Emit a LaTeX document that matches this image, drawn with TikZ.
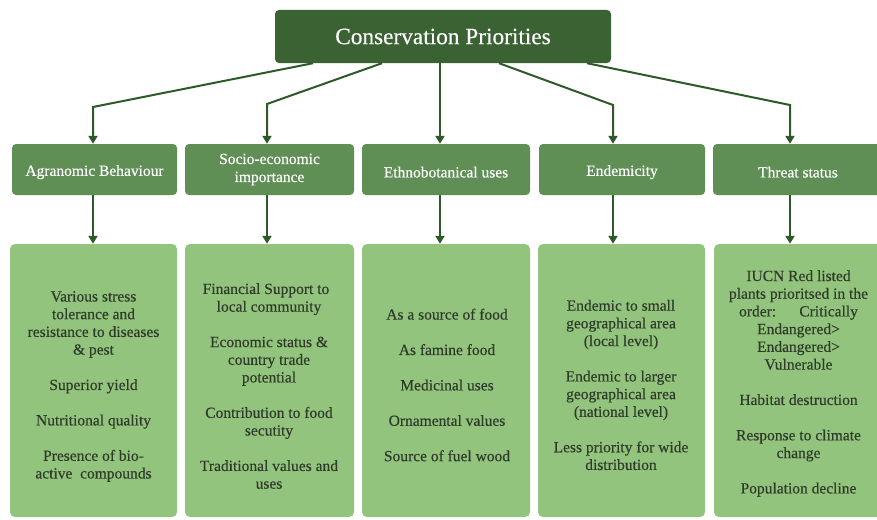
\documentclass[tikz,border=0pt]{standalone}
\usepackage{fontspec}
\setmainfont{Liberation Serif}[FakeBold=0.3]
\usetikzlibrary{arrows.meta}
\definecolor{topgreen}{HTML}{3A6233}
\definecolor{midgreen}{HTML}{5F8F55}
\definecolor{lightgreen}{HTML}{93C47D}
\definecolor{linegreen}{HTML}{2E5A2A}
\definecolor{bodytext}{HTML}{2E3A2A}
\begin{document}
\begin{tikzpicture}[x=1pt,y=-1pt,
  titlebox/.style={fill=topgreen, rounded corners=4pt, minimum width=336pt, minimum height=53pt,
    text=white, font=\fontsize{23.3}{27}\selectfont, inner sep=0pt},
  headbox/.style={fill=midgreen, rounded corners=4pt, minimum height=51pt, text=white,
    font=\fontsize{15.5}{18}\selectfont, align=center, inner sep=0pt,
    execute at begin node={\rule{0pt}{16pt}}},
  itembox/.style={fill=lightgreen, rounded corners=5pt, minimum height=273pt, inner sep=0pt},
  itemtext/.style={text=bodytext, font=\fontsize{15.5}{17.7}\selectfont, align=center, inner sep=0pt},
  link/.style={draw=linegreen, line width=2pt},
  arr/.style={link, -{Triangle[width=9pt,length=8pt]}}
]
\useasboundingbox (0,0) rectangle (877,519);
\begin{scope}
\clip (0,0) rectangle (877,519);

% root
\node[titlebox] (root) at (443,36.5) {Conservation Priorities};

% category boxes
\node[headbox, minimum width=165pt] (m1) at (94.5,169.5) {Agranomic Behaviour};
\node[headbox, minimum width=169pt] (m2) at (269.5,169.5) {Socio-economic\\importance};
\node[headbox, minimum width=168pt] (m3) at (446,169.5) {Ethnobotanical uses};
\node[headbox, minimum width=166pt] (m4) at (622,169.5) {Endemicity};
\node[headbox, minimum width=170pt] (m5) at (798,169.5) {Threat status};

% detail boxes
\node[itembox, minimum width=167pt] (b1) at (93.5,380.5) {};
\node[itembox, minimum width=169pt] (b2) at (269.5,380.5) {};
\node[itembox, minimum width=168pt] (b3) at (446,380.5) {};
\node[itembox, minimum width=167pt] (b4) at (621.5,380.5) {};
\node[itembox, minimum width=169pt] (b5) at (798.5,380.5) {};

\node[itemtext] (t1) at (93.5,386.5) {Various stress\\tolerance and\\resistance to diseases\\\& pest\\[17.7pt]
  Superior yield\\[17.7pt]Nutritional quality\\[17.7pt]Presence of bio-\\active\ \ compounds};
\node[itemtext] (t2) at (269,386) {Financial Support to\hspace*{6pt}\\local community\\[17.7pt]
  Economic status \&\hspace*{18pt}\\country trade\\potential\\[17.7pt]
  Contribution to food\hspace*{8pt}\\secutity\\[17.7pt]Traditional values and\\uses};
\node[itemtext] (t3) at (447,385) {As a source of food\\[17.7pt]As famine food\\[17.7pt]Medicinal uses\\[17.7pt]
  Ornamental values\\[17.7pt]Source of fuel wood};
\node[itemtext] (t4) at (621,385) {Endemic to small\\geographical area\\(local level)\\[17.7pt]
  Endemic to larger\\geographical area\\(national level)\\[17.7pt]Less priority for wide\\distribution};
\node[itemtext] (t5) at (798.5,383.5) {IUCN Red listed\\plants prioritsed in the\\order:\hspace{1.5em}Critically\\
  Endangered>\\Endangered>\\Vulnerable\\[17.7pt]Habitat destruction\\[17.7pt]
  Response to climate\\change\\[17.7pt]Population decline};

% branch points
\coordinate (s1) at (313,0);
\coordinate (s2) at (382,0);
\coordinate (s3) at (440,0);
\coordinate (s4) at (499,0);
\coordinate (s5) at (587,0);
\coordinate (k1) at (93,107);
\coordinate (k2) at (267,104);
\coordinate (k4) at (613,105);
\coordinate (k5) at (790,105);

% root to categories
\draw[arr] (root.south -| s1) -- (k1) -- (k1 |- m1.north);
\draw[arr] (root.south -| s2) -- (k2) -- (k2 |- m2.north);
\draw[arr] (root.south -| s3) -- (s3 |- m3.north);
\draw[arr] (root.south -| s4) -- (k4) -- (k4 |- m4.north);
\draw[arr] (root.south -| s5) -- (k5) -- (k5 |- m5.north);

% categories to details
\draw[arr] (m1.south -| k1) -- (b1.north -| k1);
\draw[arr] (m2.south -| k2) -- (b2.north -| k2);
\draw[arr] (m3.south -| s3) -- (b3.north -| s3);
\draw[arr] (m4.south -| k4) -- (b4.north -| k4);
\draw[arr] (m5.south -| k5) -- (b5.north -| k5);
\end{scope}
\end{tikzpicture}
\end{document}
